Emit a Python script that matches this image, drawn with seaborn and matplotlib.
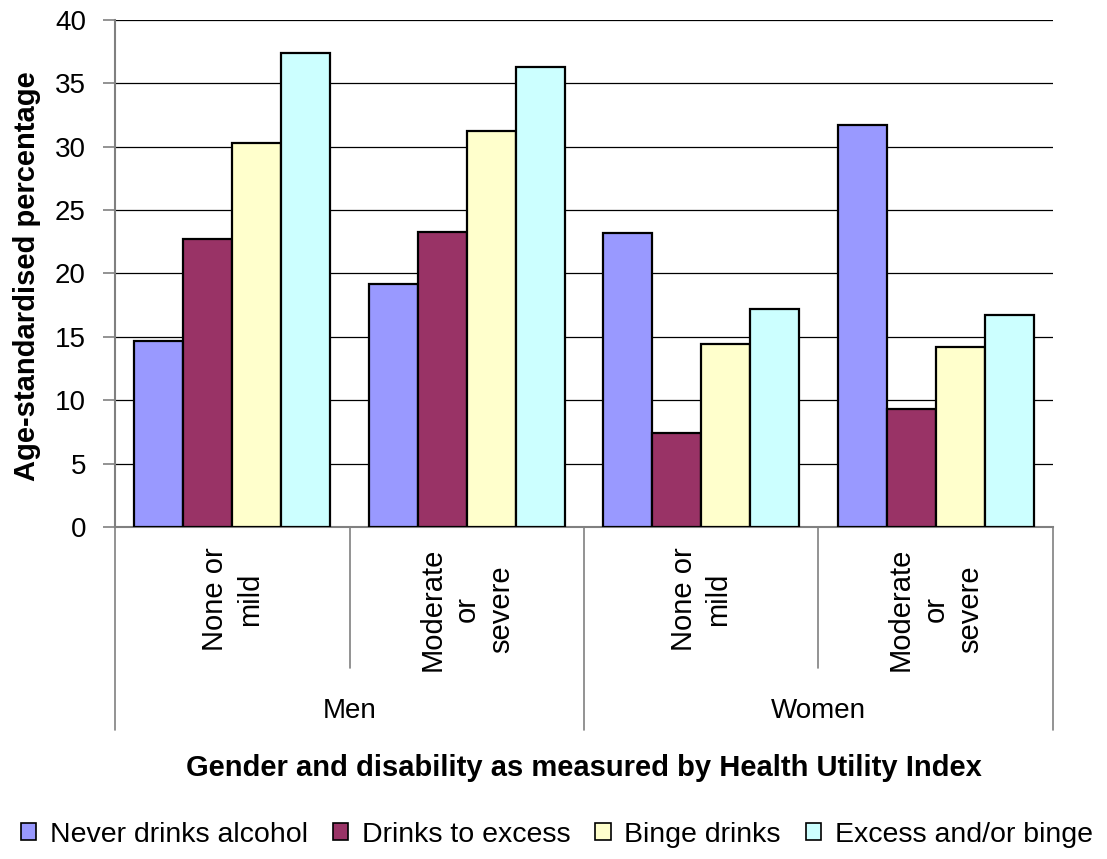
import matplotlib
matplotlib.use("Agg")
import matplotlib.pyplot as plt
import matplotlib.transforms as mtransforms
from matplotlib.patches import Patch
import seaborn as sns
import pandas as pd

# Categories and series values (age-standardised percentages)
genders = ["Men", "Women"]
disability = ["None or\nmild", "Moderate\nor\nsevere"]
series = ["Never drinks alcohol", "Drinks to excess", "Binge drinks", "Excess and/or binge"]
never_drinks = [14.7, 19.2, 23.2, 31.7]
drinks_excess = [22.7, 23.3, 7.4, 9.3]
binge_drinks = [30.3, 31.2, 14.4, 14.2]
excess_or_binge = [37.4, 36.3, 17.2, 16.7]
colors = ["#9999FF", "#993366", "#FFFFCC", "#CCFFFF"]

groups = [f"{g}|{d}" for g in genders for d in disability]
rows = []
for name, vals in zip(series, [never_drinks, drinks_excess, binge_drinks, excess_or_binge]):
    for grp, v in zip(groups, vals):
        rows.append({"group": grp, "series": name, "value": v})
df = pd.DataFrame(rows)

sns.set_theme(style="white")
plt.rcParams["font.family"] = ["Liberation Sans", "DejaVu Sans"]
plt.rcParams["text.color"] = "black"
plt.rcParams["axes.labelcolor"] = "black"
plt.rcParams["ytick.color"] = "black"

fig = plt.figure(figsize=(11.07, 8.59), dpi=100)
ax = fig.add_axes([0.104, 0.3865, 0.847, 0.5905])

sns.barplot(data=df, x="group", y="value", hue="series", order=groups,
            hue_order=series, palette=colors, width=0.836, gap=0,
            edgecolor="black", linewidth=1.6, saturation=1, ax=ax, legend=False,
            zorder=3)

ax.set_ylim(0, 40)
ax.set_xlim(-0.5, len(groups) - 0.5)
ax.set_yticks(range(0, 41, 5))
ax.yaxis.grid(True, color="black", linewidth=0.9)
ax.set_axisbelow(True)
ax.tick_params(axis="y", labelsize=20, length=9, width=1.2, color="#808080",
               left=True, pad=12, labelcolor="black")
ax.set_xticks([])
ax.set_xlabel("")
ax.set_ylabel("")
for side in ["top", "right"]:
    ax.spines[side].set_visible(False)
ax.spines["left"].set_color("#808080")
ax.spines["left"].set_linewidth(1.5)
ax.spines["bottom"].set_color("#808080")
ax.spines["bottom"].set_linewidth(1.5)

fig.text(27 / 1107, 1 - 276 / 859, "Age-standardised percentage", rotation=90,
         ha="center", va="center", fontsize=21, fontweight="bold")

trans = mtransforms.blended_transform_factory(ax.transData, ax.transAxes)
# Separators of the two-level category axis
for xpos in [0.5, 2.5]:
    ax.plot([xpos, xpos], [0, -0.278], transform=trans, color="#808080",
            linewidth=1.2, clip_on=False)
for xpos in [-0.5, 1.5, 3.5]:
    ax.plot([xpos, xpos], [0, -0.40], transform=trans, color="#808080",
            linewidth=1.2, clip_on=False)

# Inner labels (disability level), rotated
for i, grp in enumerate(groups):
    label = grp.split("|")[1]
    ax.text(i, -0.04, label, transform=trans, rotation=90, ha="center",
            va="top", multialignment="center", fontsize=21, linespacing=1.3)

# Outer labels (gender)
for j, g in enumerate(genders):
    ax.text(2 * j + 0.5, -0.362, g, transform=trans, ha="center", va="center",
            fontsize=20)

ax.text(0.5, -0.476, "Gender and disability as measured by Health Utility Index",
        transform=ax.transAxes, ha="center", va="center", fontsize=21,
        fontweight="bold")

handles = [Patch(facecolor=c, edgecolor="black", linewidth=1.2) for c in colors]
fig.legend(handles, series, loc="center", bbox_to_anchor=(0.503, 0.028),
           ncol=4, frameon=False, fontsize=20.5, handlelength=0.53,
           handleheight=0.53, handletextpad=0.49, columnspacing=0.88,
           borderaxespad=0)

fig.savefig("out.png", dpi=100)
